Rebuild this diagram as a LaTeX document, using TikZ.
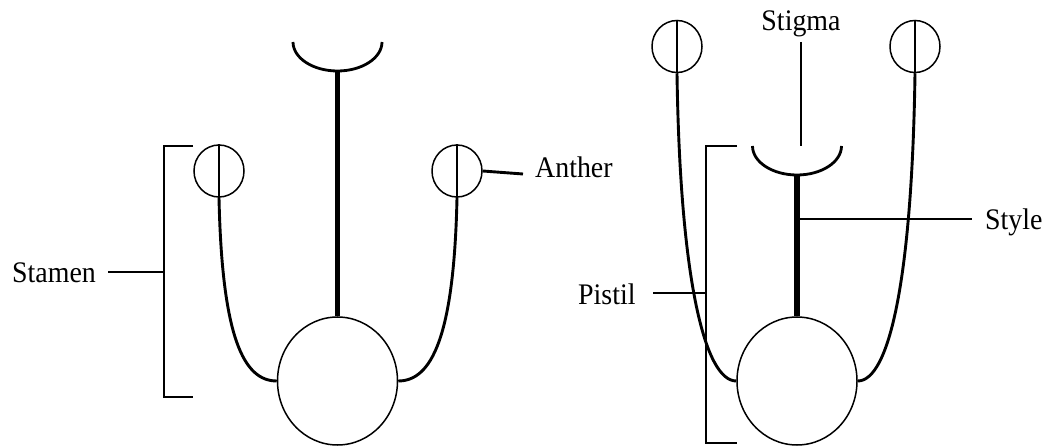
\documentclass[tikz,border=0pt]{standalone}
\usepackage{fontspec}
\setmainfont{Liberation Serif}
\usetikzlibrary{shapes.geometric}
\newcommand{\stretchtxt}[1]{\scalebox{1}[1.07]{#1}}
\begin{document}
\begin{tikzpicture}[x=1bp,y=-1bp,
  ovary/.style={draw,ellipse,minimum width=120bp,minimum height=128bp,inner sep=0,line width=1.5bp},
  antherc/.style={draw,ellipse,minimum width=50bp,minimum height=52bp,inner sep=0,line width=1.5bp},
  filament/.style={line width=2.9bp},
  stylebar/.style={line width=5.5bp},
  cup/.style={line width=2.8bp},
  thin/.style={line width=1.6bp},
  lbl/.style={inner sep=0,font=\fontsize{28}{30}\selectfont}]
\useasboundingbox (0,0) rectangle (1047,448);
% ---------- left flower ----------
\node[ovary] (ovL) at (337.5,381) {};
\node[antherc] (aLL) at (219,171) {};
\node[antherc] (aLR) at (457,171) {};
\draw[thin] (aLL.north) -- (aLL.south);
\draw[thin] (aLR.north) -- (aLR.south);
\draw[filament] (aLL.south) .. controls +(3,140) and +(-33,0) .. (ovL.west);
\draw[filament] (aLR.south) .. controls +(-3,140) and +(33,0) .. (ovL.east);
\draw[cup] (293,42) arc[start angle=180,end angle=360,x radius=44.5,y radius=-29];
\coordinate (cupL) at (337.5,71);
\draw[stylebar] (cupL) -- (ovL.north);
% stamen bracket
\coordinate (sbT) at (164,146);
\coordinate (sbB) at (164,397);
\coordinate (sbM) at (164,272);
\draw[thin] (193,146) -- (sbT) -- (sbB) -- (193,397);
\node[lbl,anchor=base west] (stamen) at (12,282.7) {\stretchtxt{Stamen}};
\draw[thin] (sbM) -- (108,272);
% anther label
\node[lbl,anchor=base west] (anther) at (535,178) {\stretchtxt{Anther}};
\draw[filament] (aLR.east) -- (523,174);
% ---------- right flower ----------
\node[ovary] (ovR) at (797,381) {};
\node[antherc] (aRL) at (677,46.5) {};
\node[antherc] (aRR) at (915,46.5) {};
\draw[thin] (aRL.north) -- (aRL.south);
\draw[thin] (aRR.north) -- (aRR.south);
\draw[filament] (aRL.south) .. controls +(3,208) and +(-31,0) .. (ovR.west);
\draw[filament] (aRR.south) .. controls +(-3,208) and +(31,0) .. (ovR.east);
\draw[cup] (752.5,146) arc[start angle=180,end angle=360,x radius=44.5,y radius=-29];
\coordinate (cupR) at (797,175);
\draw[stylebar] (cupR) -- (ovR.north);
% stigma label
\node[lbl,anchor=base] (stigma) at (801,30.7) {\stretchtxt{Stigma}};
\draw[thin] (801,42) -- (801,146);
% style label
\node[lbl,anchor=base west] (style) at (985,230) {\stretchtxt{Style}};
\draw[thin] (799.5,219) -- (972,219);
% pistil bracket
\coordinate (pbT) at (706,146);
\coordinate (pbB) at (706,443);
\coordinate (pbM) at (706,293);
\draw[thin] (737,146) -- (pbT) -- (pbB) -- (737,443);
\node[lbl,anchor=base west] (pistil) at (578,305) {\stretchtxt{Pistil}};
\draw[thin] (pbM) -- (653,293);
\end{tikzpicture}
\end{document}
